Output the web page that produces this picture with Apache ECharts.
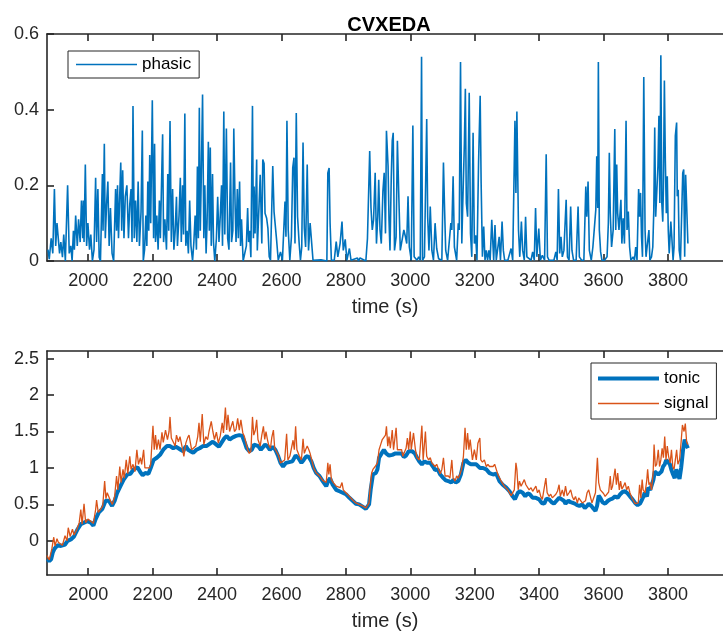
<!DOCTYPE html>
<html>
<head>
<meta charset="utf-8">
<script src="https://cdn.jsdelivr.net/npm/echarts@6/dist/echarts.min.js"></script>
<style>
  html, body { margin: 0; padding: 0; background: #fff; }
  #main { width: 723px; height: 632px; }
</style>
</head>
<body>
<div id="main"></div>
<script type="text/javascript">
// tick labels
var xTicks = [2000, 2200, 2400, 2600, 2800, 3000, 3200, 3400, 3600, 3800];
var phasicTicks = [0, 0.2, 0.4, 0.6];
var tonicTicks = [0, 0.5, 1, 1.5, 2, 2.5];

// phasic component (time in s, value)
var phasicTime = [1875,1879,1885,1890,1895,1899,1903,1907,1911,1915,1920,1924,1929,1936,1941,1946,1950,1954,1957,1961,1966,1970,1975,1979,1983,1985,1987,1991,1995,1999,
  2004,2008,2013,2018,2023,2026,2030,2034,2038,2044,2046,2050,2053,2057,2061,2065,2069,2074,2079,2085,2088,2091,2094,2097,2101,2104,2107,2111,2115,2120,
  2125,2129,2133,2136,2139,2143,2147,2151,2155,2159,2164,2168,2171,2175,2179,2182,2185,2188,2191,2194,2199,2203,2206,2209,2213,2217,2221,2224,2228,2231,
  2234,2238,2243,2247,2250,2254,2258,2262,2266,2270,2274,2277,2282,2286,2289,2293,2296,2300,2303,2307,2311,2315,2319,2324,2328,2332,2336,2339,2342,2345,
  2348,2351,2355,2359,2362,2366,2369,2373,2376,2379,2382,2386,2389,2393,2398,2402,2406,2410,2414,2417,2421,2424,2429,2433,2437,2442,2445,2449,2452,2456,
  2459,2463,2466,2470,2473,2476,2481,2487,2491,2495,2498,2501,2505,2510,2513,
  2515,2518,2523,2525,2534,2539,2542,2546,2549,2554,2558,2562,2566,2573,2577,2581,2585,2590,2597,2603,2607,2611,2614,2617,2621,2626,2631,2635,2639,2642,
  2646,2650,2655,2659,2663,2667,2671,2675,2680,2684,2689,2693,2698,2723,2741,2744,2748,2751,2755,2764,2770,2775,2782,2788,2792,2798,2803,2811,2816,2836,
  2839,2844,2862,2867,2870,2874,2878,2882,2886,2891,2895,2899,2902,2906,2910,2915,2919,2923,2926,2931,2934,2937,2941,2944,2947,2951,2956,2960,2964,2969,
  2975,2980,2985,2989,2993,2997,3003,3008,3012,3016,3021,3026,3031,3035,3038,3044,3051,3054,3058,3062,3067,3072,3077,3082,3088,3098,3103,3106,3110,3116,
  3120,3126,3129,3133,3137,3144,3149,3152,3156,3160,3163,3168,3171,3174,
  3178,3183,3187,3191,3195,3199,3203,3207,3212,3217,3220,3224,3228,3232,3236,3240,3244,3248,3253,3259,3263,3267,3272,3276,3280,3285,3289,3293,3303,3313,
  3318,3325,3328,3331,3336,3340,3345,3349,3354,3358,3362,3367,3375,3380,3385,3389,3393,3399,3404,3410,3417,3422,3426,3431,3446,3452,3456,3460,3464,3468,
  3472,3477,3484,3488,3493,3498,3502,3507,3515,3521,3525,3532,3539,3545,3548,3552,3556,3562,3567,3572,3576,3579,3582,3584,3587,3591,3595,3603,3611,3615,
  3618,3621,3625,3630,3635,3638,3641,3644,3648,3654,3657,3661,3665,3670,3673,3677,3681,3685,3692,3696,3700,3704,3709,3712,3715,3718,3721,3725,3729,3732,
  3737,3741,3744,3749,3753,3756,3759,3762,3765,3769,3772,3775,3778,3781,3784,3786,3789,3792,3795,3798,3801,3804,3809,3812,3816,3819,3823,3827,3829,3832,
  3835,3839,3842,3846,3849,3852,3855,3858,3862];
var phasicValue = [.03,.005,.06,.02,.19,.04,.10,.10,.02,.05,.01,.07,0,.20,.02,.04,0,.08,.03,.12,.04,.11,.05,.16,.06,.16,.05,.255,.04,.10,
  .03,.07,0,.03,.22,.05,.19,.01,0,.23,.08,.31,.06,.15,.21,.04,.14,.02,0,.19,.08,.20,.06,.15,.26,.08,.24,.06,.17,.20,
  .06,.15,.19,.05,.41,.06,.16,.05,.21,.04,.13,.345,0,.03,.12,.04,.21,.08,.28,.10,.425,.06,.31,.05,.12,.03,.16,.06,.22,.335,
  .05,.11,.03,.23,.08,.37,.05,.19,.03,.08,.17,.04,.12,.22,.05,.20,.07,.39,.04,.08,.02,.16,.04,0,.05,.12,.03,.25,.06,.405,
  .08,.22,.44,.06,.20,.02,.10,.315,.08,.30,.04,.23,.05,0,.06,.17,.05,.12,.20,.04,.395,.07,.35,.06,.03,.26,.05,.08,.35,.15,
  .05,.19,.06,.21,.04,.11,0,0,.04,.14,.05,.08,.01,.41,.06,
  .197,.073,.268,.028,.228,.046,.268,.258,.126,.113,.086,.011,.002,.251,.13,.13,.055,.002,.024,.002,.002,.157,.064,.371,.082,.002,.064,.246,.273,.046,
  .391,.117,.046,.002,.037,.313,.086,.037,.255,.028,.1,.1,.002,.003,0,.233,.246,.1,.002,.002,.051,.011,.046,.104,.028,.057,.002,.033,.002,.008,
  0,.008,0,.059,.055,.291,.14,.082,.109,.233,.046,.117,.215,.082,.046,.184,.233,.073,.344,.251,.108,.028,.224,.318,.339,.028,.064,.318,.184,.028,
  .028,.082,.064,.046,.171,.037,.002,.358,.011,.011,.002,.011,.002,.54,.002,.011,.375,.117,.028,.144,.028,.002,.1,.033,.006,.002,.26,.153,.028,.002,
  .002,.1,.082,.224,.037,.002,.1,.082,.526,.046,.153,.311,.455,.153,
  .117,.445,.073,.011,.339,.046,.068,.002,.26,.437,.206,.011,.091,.002,.028,.002,.028,.002,.109,.002,.095,.002,.002,.064,.002,.104,.028,.002,.002,.033,
  .002,.371,.18,.395,.082,.011,.104,.028,.002,.117,.011,.006,.002,.024,.002,.14,.011,.086,.002,.015,.002,.282,.011,.002,.002,.024,.002,.19,.02,.064,
  .011,.028,.162,.011,.002,.144,.028,.002,.002,.144,.011,.002,.002,.197,.117,.21,.028,.002,.037,.037,.135,.277,.14,.526,.082,.024,.002,.002,.011,.1,
  .286,.126,.037,.082,.349,.082,.255,.126,.082,.162,.046,.113,.046,.371,.082,.131,.037,.002,.011,.002,.037,.002,.19,.117,.18,.064,.011,.486,.082,.011,
  .011,.082,.002,.011,.037,.131,.353,.117,.117,.251,.384,.153,.544,.153,.104,.193,.477,.264,.126,.224,.082,.02,.104,.064,.002,.037,.331,.366,.171,.188,
  .028,.002,.002,.233,.242,.011,.228,.224,.046];

// tonic component
var tonicTime = [1874,1879,1885,1890,1895,1905,1915,1920,1928,1936,1946,1956,1967,1977,1987,1997,2008,2016,2023,2033,2044,2054,2064,2074,2082,2090,2100,2110,2121,2131,
  2141,2153,2162,2169,2177,2187,2194,2203,2213,2223,2233,2244,2254,2264,2272,2280,2287,2295,2303,2310,2317,2326,2336,2346,2356,2367,2377,2387,2398,2406,
  2413,2423,2430,2439,2449,2459,2469,2478,2485,2492,2500,2508,2515,
  2521,2528,2536,2542,2549,2556,2564,2573,2581,2590,2597,2605,2614,2624,2634,2644,2652,2662,2669,2677,2685,2693,2700,2708,2718,2728,2739,2745,2751,2759,
  2770,2780,2790,2800,2811,2821,2831,2841,2852,2862,2867,2872,2877,2884,2893,2898,2903,2911,2918,2925,2934,2944,2954,2964,2973,2980,2987,2995,3005,3014,
  3021,3028,3036,3044,3052,3062,3072,3077,3085,3093,3103,3110,3118,3127,3134,3141,3149,3157,3165,3172,
  3180,3188,3195,3205,3216,3226,3236,3246,3257,3267,3277,3287,3298,3308,3318,3325,3334,3341,3349,3357,3364,3371,3380,3390,3400,3408,3416,3423,3431,3439,
  3446,3454,3462,3470,3477,3482,3491,3498,3503,3511,3518,3525,3534,3542,3549,3554,3562,3569,3575,3580,3585,3590,3597,3605,3614,3621,3628,3636,3644,3652,
  3659,3667,3675,3682,3690,3698,3706,3713,3718,3724,3728,3735,3739,3745,3749,3755,3759,3764,3770,3775,3780,3785,3790,3795,3800,3806,3811,3816,3821,3826,
  3831,3836,3841,3847,3852,3857,3862];
var tonicValue = [-.25,-.28,-.25,-.16,-.11,-.06,-.07,-.09,-.05,0,.02,.06,.16,.23,.25,.27,.25,.21,.30,.39,.44,.55,.55,.48,.55,.66,.75,.84,.91,.92,
  .98,1.01,.94,.90,.93,.92,1.00,1.11,1.14,1.18,1.25,1.30,1.30,1.27,1.29,1.27,1.25,1.23,1.30,1.25,1.23,1.21,1.25,1.27,1.30,1.30,1.33,1.36,1.32,1.29,
  1.34,1.41,1.44,1.39,1.42,1.44,1.45,1.44,1.36,1.27,1.23,1.25,1.32,
  1.32,1.30,1.25,1.26,1.32,1.30,1.25,1.29,1.25,1.16,1.07,1.02,1.07,1.08,1.09,1.17,1.14,1.07,1.11,1.16,1.15,1.09,1.00,.93,.89,.82,.75,.82,.86,.77,
  .70,.68,.66,.64,.59,.55,.51,.50,.47,.44,.43,.50,.70,.91,.93,.98,1.14,1.20,1.25,1.20,1.17,1.18,1.20,1.20,1.20,1.15,1.17,1.23,1.23,1.20,
  1.14,1.09,1.05,1.09,1.07,1.07,1.01,.97,.98,.91,.86,.83,.82,.80,.84,.80,.82,.91,1.07,1.11,
  1.07,1.05,1.05,1.05,1.00,1.00,.98,.93,.91,.92,.82,.77,.73,.68,.61,.57,.66,.68,.66,.61,.65,.64,.59,.59,.57,.52,.51,.58,.57,.53,
  .51,.55,.59,.57,.55,.51,.55,.53,.55,.51,.49,.48,.50,.45,.48,.51,.48,.44,.41,.48,.62,.59,.53,.51,.55,.57,.58,.61,.59,.64,
  .67,.68,.65,.61,.57,.52,.49,.51,.55,.61,.66,.61,.73,.70,.68,.84,.95,.94,.91,.92,.95,1.02,1.05,1.11,1.09,1.05,.97,.91,.86,.98,
  .91,.85,1.00,1.25,1.39,1.32,1.27];

// measured signal
var signalTime = [1872,1879,1887,1893,1897,1903,1907,1913,1920,1928,1934,1938,1944,1951,1956,1965,1972,1977,1981,1987,1992,1999,2008,2016,2023,2026,2031,2038,2045,2051,
  2055,2059,2064,2069,2075,2082,2088,2092,2098,2102,2108,2112,2118,2123,2129,2133,2139,2145,2151,2156,2162,2166,2172,2176,2182,2190,2194,2201,2205,2209,
  2213,2218,2223,2229,2233,2240,2246,2251,2254,2258,2264,2270,2274,2280,2285,2291,2297,2303,2309,2313,2321,2326,2334,2340,2344,2348,2354,2359,2365,2371,
  2375,2382,2387,2392,2398,2404,2410,2416,2420,2426,2430,2434,2439,2444,2449,2454,2459,2464,2469,2474,2480,2485,2490,2495,2500,2505,2510,2514,2519,2523,
  2527,2534,2539,2544,2548,2552,2556,2560,2566,2570,2575,2579,2585,2591,2597,2603,2610,2616,2620,2626,2632,2636,2640,2644,2648,2655,2662,2667,2671,2675,
  2680,2685,2689,2694,2700,2708,2718,2728,2739,2744,2747,2751,2755,2761,2770,2776,2782,2788,2792,2800,2811,2821,2831,2841,2852,2862,2867,2872,2874,2877,
  2880,2884,2891,2898,2903,2908,2913,2918,2923,2926,2930,2934,2938,2944,2948,2952,2956,2960,2966,2973,2977,2983,2987,2991,2995,3000,3003,3010,3016,3021,
  3028,3036,3040,3047,3051,3057,3062,3067,3072,3077,3082,3088,3093,3098,3103,3108,3113,3118,3123,3129,3133,3139,3144,3149,3154,3159,3165,3170,3174,3178,
  3182,3186,3193,3199,3205,3210,3216,3219,3224,3230,3236,3241,3246,3251,3257,3262,3267,3272,3277,3282,3287,3292,3298,3303,3308,3313,3318,3323,3328,3331,
  3335,3339,3344,3349,3354,3359,3364,3369,3375,3380,3385,3390,3395,3400,3405,3410,3416,3421,3425,3431,3436,3441,3446,3452,3457,3462,3466,3472,3477,3482,
  3487,3493,3498,3503,3508,3513,3519,3523,3528,3534,3539,3544,3549,3554,3559,3564,3569,3575,3578,3581,3585,3590,3595,3600,3605,3611,3616,3621,3624,3628,
  3633,3636,3640,3644,3649,3653,3657,3662,3667,3672,3677,3682,3688,3693,3698,3703,3708,3712,3716,3720,3723,3729,3734,3737,3741,3745,3749,3754,3757,3761,
  3765,3770,3774,3778,3782,3786,3790,3794,3798,3802,3807,3811,3815,3819,3823,3827,3831,3836,3841,3845,3850,3854,3858,3862];
var signalValue = [-.20,-.26,-.11,.05,-.07,.03,-.02,0,-.06,.07,0,.18,.06,.16,.08,.16,.25,.43,.23,.51,.25,.30,.27,.24,.43,.56,.39,.43,.48,.82,
  .58,.66,.66,.55,.50,.61,.89,.70,1.02,.80,.98,.86,1.11,.92,1.16,.98,1.05,.95,1.25,1.05,1.14,1.05,1.25,1.00,1.02,1.00,1.05,1.58,1.25,1.45,
  1.25,1.39,1.25,1.49,1.35,1.52,1.39,1.50,1.70,1.41,1.39,1.30,1.45,1.36,1.43,1.30,1.16,1.34,1.42,1.45,1.25,1.25,1.30,1.43,1.62,1.36,1.74,1.32,1.43,1.39,
  1.50,1.64,1.50,1.39,1.49,1.34,1.44,1.62,1.48,1.83,1.52,1.73,1.50,1.48,1.64,1.50,1.53,1.68,1.52,1.66,1.48,1.43,1.34,1.25,1.20,1.23,1.70,1.45,1.52,1.66,
  1.39,1.30,1.45,1.57,1.39,1.50,1.40,1.32,1.27,1.42,1.52,1.27,1.29,1.17,1.07,1.05,1.11,1.47,1.11,1.16,1.14,1.38,1.25,1.57,1.25,1.17,1.11,1.40,1.20,1.25,
  1.30,1.25,1.20,1.11,1.00,.93,.89,.83,.80,1.07,.91,1.05,.84,.80,.75,.77,.73,.80,.70,.66,.61,.56,.52,.50,.48,.45,.44,.52,.66,.80,
  .93,.98,1.02,1.07,1.25,1.32,1.39,1.41,1.45,1.57,1.30,1.43,1.27,1.52,1.25,1.27,1.55,1.25,1.23,1.25,1.16,1.23,1.27,1.41,1.25,1.50,1.25,1.48,1.25,1.14,
  1.11,1.58,1.11,1.50,1.16,1.11,1.14,1.07,1.05,1.02,1.05,.98,.92,.98,1.14,.89,.89,.89,.86,1.11,.86,.82,.89,.86,.91,.98,1.16,1.55,1.25,1.48,
  1.25,1.39,1.11,1.25,1.11,1.34,1.41,1.11,1.08,1.11,1.02,1.05,1.02,1.00,1.02,1.05,.98,.91,.89,.82,.80,.75,.75,.70,.68,.62,.61,.70,1.07,.98,
  .70,.82,.75,.73,.84,.77,.75,.70,.73,.68,.68,.75,.66,.70,.61,.57,.58,.86,.66,.61,.64,.59,.61,.64,.68,.77,.61,.70,.61,.75,
  .62,.66,.70,.61,.56,.61,.52,.59,.57,.52,.50,.55,.66,.70,.61,.52,.52,.66,.91,1.14,.80,.70,.68,.65,.61,.61,.67,.89,.70,.75,
  .77,.99,.77,.93,.70,.82,.71,.75,.80,.70,.75,.66,.59,.55,.51,.50,.52,.77,.59,.84,.70,.66,.82,.98,.77,.80,.70,.93,1.32,1.02,
  1.05,1.25,1.02,1.11,1.27,1.14,1.43,1.11,1.30,1.16,1.07,1.25,1.02,.98,1.11,1.25,1.05,1.11,1.36,1.59,1.50,1.61,1.36,1.32];

function pairs(t, v) {
  return t.map(function (x, i) { return [x, v[i]]; });
}

var axisColor = '#262626';
var font = 'Liberation Sans, Arial, Helvetica, sans-serif';
var xMin = 1872, xMax = 3971;
// legend samples: plain line strokes of the series' width
var thinIcon = 'path://M0,0h610v13h-610z';
var thickIcon = 'path://M0,0h610v40h-610z';

function xAxisBottom(grid) {
  return {
    type: 'value', gridIndex: grid, position: 'bottom', min: xMin, max: xMax,
    name: 'time (s)', nameLocation: 'middle', nameGap: 36,
    nameTextStyle: { fontSize: 20, color: axisColor, fontFamily: font },
    axisLine: { show: true, onZero: false, lineStyle: { color: axisColor, width: 1.6 } },
    axisTick: { show: true, inside: true, length: 7, customValues: xTicks, lineStyle: { color: axisColor, width: 1.6 } },
    axisLabel: {
      customValues: xTicks, margin: 11, fontSize: 18, color: axisColor, fontFamily: font,
      formatter: function (v) { return String(v); }
    },
    splitLine: { show: false }
  };
}
function xAxisTop(grid) {
  return {
    type: 'value', gridIndex: grid, position: 'top', min: xMin, max: xMax,
    axisLine: { show: true, onZero: false, lineStyle: { color: axisColor, width: 1.6 } },
    axisTick: { show: true, inside: true, length: 7, customValues: xTicks, lineStyle: { color: axisColor, width: 1.6 } },
    axisLabel: { show: false },
    splitLine: { show: false }
  };
}
function yAxis(grid, min, max, ticks) {
  return {
    type: 'value', gridIndex: grid, min: min, max: max,
    axisLine: { show: true, onZero: false, lineStyle: { color: axisColor, width: 1.6 } },
    axisTick: { show: true, inside: true, length: 7, customValues: ticks, lineStyle: { color: axisColor, width: 1.6 } },
    axisLabel: { customValues: ticks, margin: 8, fontSize: 18, color: axisColor, fontFamily: font },
    splitLine: { show: false }
  };
}

var myChart = echarts.init(document.getElementById('main'), null, { renderer: 'canvas' });
var option = {
  animation: false,
  backgroundColor: '#ffffff',
  title: {
    text: 'CVXEDA', left: 384, top: 10, textAlign: 'center',
    textStyle: { fontSize: 20, fontWeight: 'bold', color: '#000', fontFamily: font }
  },
  legend: [
    {
      data: [{ name: 'phasic', icon: thinIcon }], left: 68, top: 51, orient: 'vertical',
      itemWidth: 61, itemHeight: 14, padding: [5, 8, 5, 8],
      borderColor: axisColor, borderWidth: 1, backgroundColor: '#fff',
      textStyle: { fontSize: 17, color: '#000', fontFamily: font }
    },
    {
      data: [{ name: 'tonic', icon: thickIcon }, { name: 'signal', icon: thinIcon }],
      left: 591, top: 363, orient: 'vertical',
      itemWidth: 61, itemHeight: 14, itemGap: 8, padding: [7, 8, 7, 7],
      borderColor: axisColor, borderWidth: 1, backgroundColor: '#fff',
      textStyle: { fontSize: 17, color: '#000', fontFamily: font }
    }
  ],
  grid: [
    { left: 47, top: 34, width: 684, height: 227 },
    { left: 47, top: 351, width: 684, height: 225 }
  ],
  xAxis: [xAxisBottom(0), xAxisTop(0), xAxisBottom(1), xAxisTop(1)],
  yAxis: [
    yAxis(0, 0, 0.6, phasicTicks),
    yAxis(1, -0.468, 2.604, tonicTicks)
  ],
  series: [
    {
      name: 'phasic', type: 'line', xAxisIndex: 0, yAxisIndex: 0,
      data: pairs(phasicTime, phasicValue), symbol: 'none',
      lineStyle: { color: '#0072BD', width: 1.6 }, itemStyle: { color: '#0072BD' }
    },
    {
      name: 'tonic', type: 'line', xAxisIndex: 2, yAxisIndex: 1,
      data: pairs(tonicTime, tonicValue), symbol: 'none',
      lineStyle: { color: '#0072BD', width: 4 }, itemStyle: { color: '#0072BD' }
    },
    {
      name: 'signal', type: 'line', xAxisIndex: 2, yAxisIndex: 1,
      data: pairs(signalTime, signalValue), symbol: 'none',
      lineStyle: { color: '#D95319', width: 1.3 }, itemStyle: { color: '#D95319' }
    }
  ]
};
myChart.setOption(option);
</script>
</body>
</html>
